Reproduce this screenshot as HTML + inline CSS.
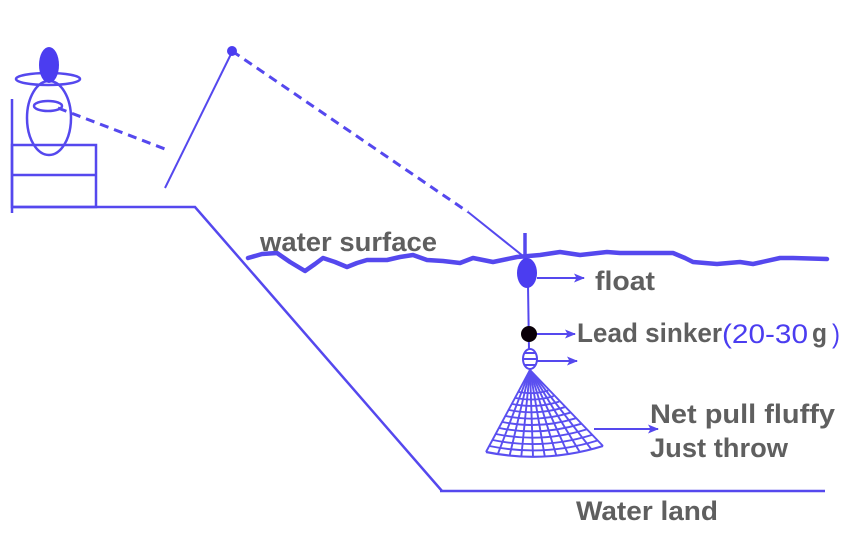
<!DOCTYPE html>
<html>
<head>
<meta charset="utf-8">
<style>
html,body{margin:0;padding:0;background:#fff;}
svg{display:block;}
.t{font-family:"Liberation Sans",sans-serif;font-weight:bold;font-size:26.5px;fill:#5f5f5f;}
.b{font-family:"Liberation Sans",sans-serif;font-size:27px;fill:#4b3df0;}
</style>
</head>
<body>
<svg width="850" height="535" viewBox="0 0 850 535" xmlns="http://www.w3.org/2000/svg">
<defs>
<marker id="ah" markerWidth="11" markerHeight="10" refX="10" refY="5" orient="auto" markerUnits="userSpaceOnUse">
<path d="M0,0.5 L11,5 L0,9.5 L2.5,5 Z" fill="#5548ee"/>
</marker>
</defs>
<g stroke="#5548ee" fill="none" stroke-width="2.5">
<!-- person -->
<line x1="12" y1="99" x2="12" y2="213"/>
<rect x="12" y="145" width="84" height="62"/>
<line x1="12" y1="175" x2="96" y2="175"/>
<polyline points="12,207 195,207 442,491"/>
<line x1="440" y1="491" x2="825" y2="491"/>
<ellipse cx="49" cy="118" rx="22" ry="37"/>
<ellipse cx="48" cy="106" rx="14" ry="5"/>
<ellipse cx="48" cy="79" rx="32" ry="6"/>
<line x1="58" y1="108" x2="165" y2="149" stroke-width="3" stroke-dasharray="9,6"/>
<!-- rod -->
<line x1="165" y1="188" x2="232" y2="52" stroke-width="2"/>
<line x1="232" y1="51" x2="468" y2="212" stroke-width="3" stroke-dasharray="9,6"/>
<line x1="468" y1="212" x2="523" y2="256" stroke-width="2"/>
<!-- float stick -->
<line x1="525" y1="233" x2="525" y2="262" stroke-width="3.5"/>
<!-- water surface -->
<polyline stroke-width="4.5" stroke-linejoin="round" stroke-linecap="round" points="248,258 262,254 277,253 290,262 305,271 315,264 323,258 335,262 347,267 357,263 367,260 387,260 400,257 413,255 427,260 443,261 460,263 473,258 493,262 517,257 540,255 560,252 580,255 607,252 620,253 673,253 685,258 693,262 717,264 740,262 753,264 780,258 793,258 827,259"/>
<!-- main line -->
<line x1="528" y1="285" x2="529" y2="350" stroke-width="2"/>
<!-- arrows -->
<line x1="537" y1="278" x2="584" y2="278" stroke-width="2" marker-end="url(#ah)"/>
<line x1="536" y1="334" x2="575" y2="334" stroke-width="2" marker-end="url(#ah)"/>
<line x1="537" y1="361" x2="577" y2="361" stroke-width="2" marker-end="url(#ah)"/>
<line x1="594" y1="429" x2="658" y2="429" stroke-width="2" marker-end="url(#ah)"/>
<!-- bead -->
<ellipse cx="530" cy="359" rx="7" ry="10" stroke-width="2"/>
<line x1="524" y1="353" x2="536" y2="353" stroke-width="2"/>
<line x1="523" y1="359" x2="537" y2="359" stroke-width="2"/>
<line x1="524" y1="365" x2="536" y2="365" stroke-width="2"/>
</g>
<!-- net -->
<g stroke="#5a4ff0" fill="none" stroke-width="1.9">
<line x1="530" y1="370" x2="486" y2="452"/>
<line x1="530" y1="370" x2="497.8" y2="454.1"/>
<line x1="530" y1="370" x2="509.6" y2="455.6"/>
<line x1="530" y1="370" x2="521.3" y2="456.5"/>
<line x1="530" y1="370" x2="533" y2="456.8"/>
<line x1="530" y1="370" x2="544.8" y2="456.5"/>
<line x1="530" y1="370" x2="556.4" y2="455.6"/>
<line x1="530" y1="370" x2="568.1" y2="454.1"/>
<line x1="530" y1="370" x2="579.8" y2="452"/>
<line x1="530" y1="370" x2="591.4" y2="449.3"/>
<line x1="530" y1="370" x2="603" y2="446"/>
<path d="M519,392 Q533.75,395 548.25,390.5"/>
<path d="M515.7,398 Q534.9,401.9 553.7,396.1"/>
<path d="M512.4,404 Q536,408.8 559.2,401.6"/>
<path d="M509.1,410 Q537.1,415.7 564.7,407.2"/>
<path d="M505.8,416 Q538.3,422.6 570.2,412.7"/>
<path d="M502.5,422 Q539.4,429.5 575.6,418.3"/>
<path d="M499.2,428 Q540.5,436.4 581.1,423.8"/>
<path d="M495.9,434 Q541.6,443.3 586.6,429.4"/>
<path d="M492.6,440 Q542.8,450.2 592.1,434.9"/>
<path d="M489.3,446 Q543.9,457.1 597.5,440.5"/>
<path d="M486,452 Q545,464 603,446" stroke-width="2.2"/>
</g>
<!-- filled shapes -->
<ellipse cx="49" cy="65" rx="10" ry="18" fill="#4b3df0"/>
<circle cx="232" cy="51" r="5" fill="#4b3df0"/>
<ellipse cx="527" cy="273" rx="10" ry="15" fill="#4b3df0"/>
<circle cx="529" cy="334" r="8" fill="#0a0008"/>
<!-- text -->
<text class="t" x="260" y="251" textLength="177" lengthAdjust="spacingAndGlyphs">water surface</text>
<text class="t" x="595" y="290" textLength="60" lengthAdjust="spacingAndGlyphs">float</text>
<text class="t" x="577" y="342" textLength="145" lengthAdjust="spacingAndGlyphs">Lead sinker</text>
<text class="b" x="722" y="343" textLength="86" lengthAdjust="spacingAndGlyphs">(20-30</text>
<text class="t" x="812" y="342" textLength="15" lengthAdjust="spacingAndGlyphs">g</text>
<text class="b" x="832" y="343" textLength="8" lengthAdjust="spacingAndGlyphs">)</text>
<text class="t" x="650" y="423" textLength="185" lengthAdjust="spacingAndGlyphs">Net pull fluffy</text>
<text class="t" x="650" y="457" textLength="138" lengthAdjust="spacingAndGlyphs">Just throw</text>
<text class="t" x="576" y="520" textLength="142" lengthAdjust="spacingAndGlyphs">Water land</text>
</svg>
</body>
</html>
